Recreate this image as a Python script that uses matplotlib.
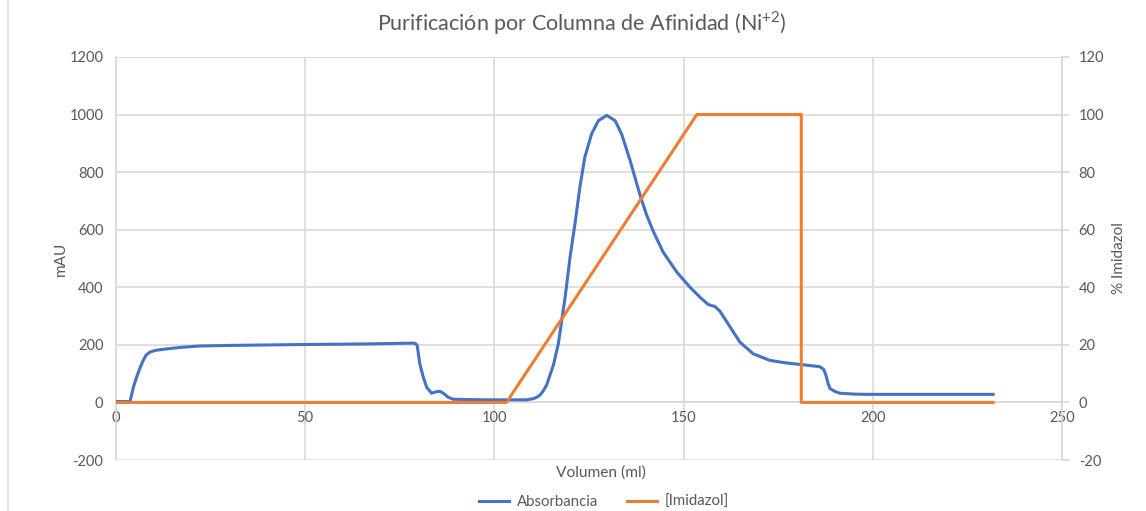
import matplotlib
matplotlib.use("Agg")
import matplotlib.pyplot as plt
from matplotlib.lines import Line2D

# Absorbancia (mAU) vs volumen (ml)
vol_abs = [0, 3.7, 4.2, 4.6, 5.5, 6.5, 7.2, 8.0, 9.0, 10.5, 13.4, 17.0, 22.0, 30.0,
           48.6, 65.0, 78.6, 79.2, 79.6, 80.3, 81.2, 82.1, 83.4, 84.3, 85.6, 86.5,
           87.8, 89.1, 97.1, 101.5, 106.8, 108.5, 110.3, 111.2, 112.1, 112.9, 113.8,
           114.7, 115.6, 116.9, 117.8, 118.7, 120.0, 121.3, 122.6, 123.9, 125.7,
           127.5, 129.7, 131.9, 133.6, 134.9, 135.8, 136.7, 138.5, 140.2, 142.0,
           144.6, 148.2, 151.7, 154.3, 156.5, 158.3, 159.6, 162.3, 164.9, 168.4,
           172.8, 177.2, 181.5, 186.0, 187.0, 187.6, 188.2, 188.7, 190.0, 191.3,
           195.0, 198.4, 231.8]
absorbancia = [3, 3, 30, 53, 90, 125, 146, 165, 175, 181, 186, 191, 196, 198,
               201, 203, 206, 204, 198, 134, 88, 53, 32, 36, 39, 32,
               18, 11, 9, 9, 9, 9, 13, 18, 26, 40, 60,
               95, 130, 204, 285, 366, 505, 621, 748, 852, 933,
               979, 997, 979, 933, 880, 843, 802, 720, 652, 594,
               522, 453, 400, 366, 340, 333, 317, 262, 209, 169,
               146, 137, 131, 124, 115, 95, 65, 48, 38, 32,
               29, 28, 28]

# [Imidazol] (%) vs volumen (ml)
vol_imid = [0, 103.2, 153.5, 181.1, 181.1, 231.8]
imidazol = [0, 0, 100, 100, 0, 0]

x_ticks = [0, 50, 100, 150, 200, 250]
left_ticks = [-200, 0, 200, 400, 600, 800, 1000, 1200]
right_ticks = [-20, 0, 20, 40, 60, 80, 100, 120]

BLUE = "#4472c4"
ORANGE = "#ed7d31"
GREY = "#595959"
GRID = "#d9d9d9"

plt.rcParams["font.family"] = ["Lato", "DejaVu Sans"]
plt.rcParams["axes.unicode_minus"] = False
plt.rcParams["mathtext.fontset"] = "custom"
plt.rcParams["mathtext.rm"] = "Lato"

fig = plt.figure(figsize=(11.46, 5.11), dpi=100)
ax = fig.add_axes([0.1012, 0.0998, 0.8255, 0.7887])
ax2 = ax.twinx()

ax.plot(vol_abs, absorbancia, color=BLUE, lw=2.2, zorder=3,
        solid_joinstyle="round")
ax2.plot(vol_imid, imidazol, color=ORANGE, lw=2.2, zorder=3)

ax.set_xlim(0, 250)
ax.set_ylim(-200, 1200)
ax2.set_ylim(-20, 120)
ax.set_xticks(x_ticks)
ax.set_yticks(left_ticks)
ax2.set_yticks(right_ticks)

ax.grid(True, color=GRID, lw=1.2)
ax.set_axisbelow(True)
for a in (ax, ax2):
    a.spines["top"].set_visible(False)
    for s in ("left", "right", "bottom"):
        a.spines[s].set_color(GRID)
        a.spines[s].set_linewidth(1.2)
ax.spines["right"].set_visible(False)
ax2.spines["left"].set_visible(False)
ax2.spines["bottom"].set_visible(False)
ax.spines["bottom"].set_position(("data", 0))

ax.tick_params(axis="x", length=0, pad=6, labelsize=10.5, labelcolor=GREY)
ax.tick_params(axis="y", length=0, pad=9, labelsize=10.5, labelcolor=GREY)
ax2.tick_params(axis="y", length=5, width=1.2, color=GRID, pad=7,
                labelsize=10.5, labelcolor=GREY)

ax.set_ylabel("mAU", fontsize=11, color=GREY, labelpad=1)
ax2.set_ylabel("% Imidazol", fontsize=11, color=GREY, labelpad=6)
fig.text(0.524, 0.076, "Volumen (ml)", fontsize=11.2, color=GREY,
         ha="center", va="center")

fig.text(0.508, 0.955, r"Purificación por Columna de Afinidad (Ni$^{\mathregular{+2}}$)",
         fontsize=15.5, color=GREY, ha="center", va="center")

handles = [Line2D([], [], color=BLUE, lw=2.2), Line2D([], [], color=ORANGE, lw=2.2)]
fig.legend(handles, ["Absorbancia", "[Imidazol]"], loc="center",
           bbox_to_anchor=(0.527, 0.017), ncol=2, frameon=False, fontsize=10.8,
           labelcolor=GREY, handlelength=2.0, handletextpad=0.5, columnspacing=1.9)

# chart area border on the left edge
fig.add_artist(Line2D([8 / 1146, 8 / 1146], [0, 1], color=GRID, lw=1.2))

fig.savefig("out.png", dpi=100)
